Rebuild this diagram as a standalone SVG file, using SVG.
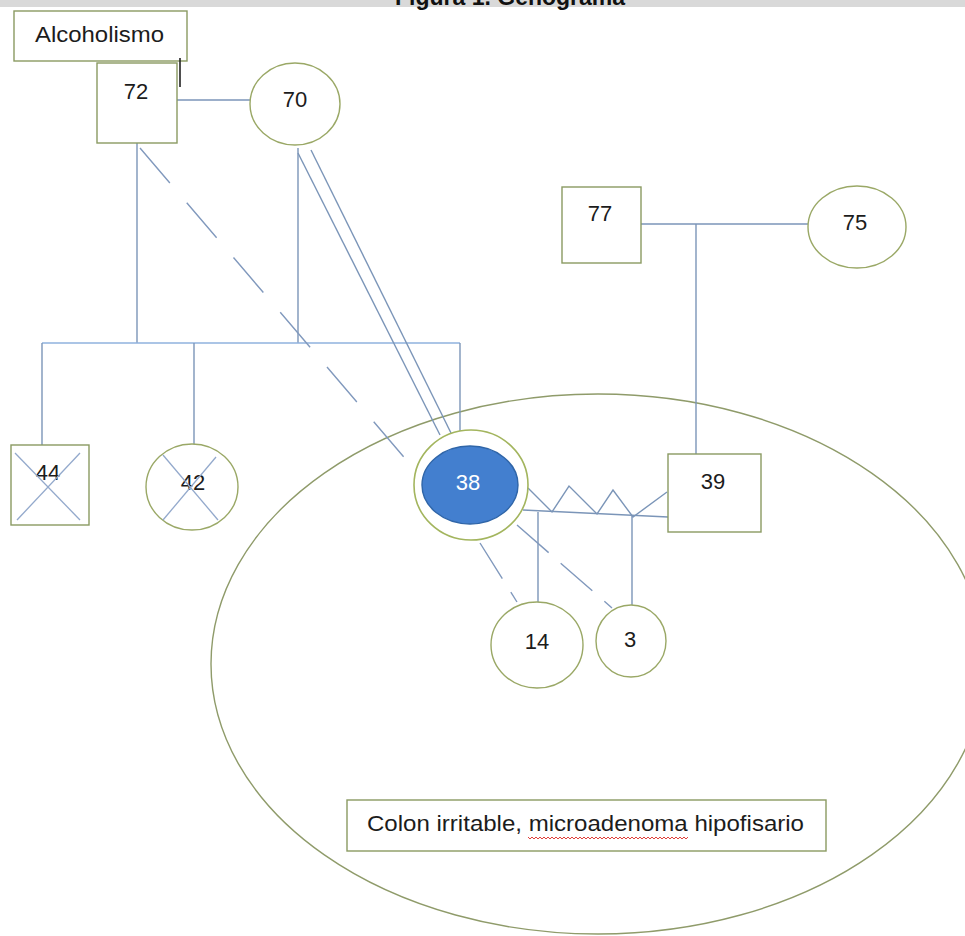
<svg xmlns="http://www.w3.org/2000/svg" width="965" height="936" viewBox="0 0 965 936">
  <style>
    .box { fill: #ffffff; stroke: #8a9a62; stroke-width: 1.4; }
    .ring { fill: #ffffff; stroke: #9aa866; stroke-width: 1.4; }
    .ln { fill: none; stroke: #7b95b8; stroke-width: 1.4; }
    .sib { fill: none; stroke: #8fb2de; stroke-width: 1.6; }
    .dash { fill: none; stroke: #8199bd; stroke-width: 1.4; stroke-dasharray: 46 26; }
    .dash2 { fill: none; stroke: #8199bd; stroke-width: 1.4; stroke-dasharray: 42 16; }
    .dead { fill: none; stroke: #93a9cc; stroke-width: 1.3; }
    .lbl { font-family: "Liberation Sans", Arial, sans-serif; font-size: 22px; fill: #1c1c1c; text-anchor: middle; }
    .note { font-family: "Liberation Sans", Arial, sans-serif; font-size: 22px; fill: #1c1c1c; }
  </style>

  <rect x="0" y="0" width="965" height="936" fill="#ffffff"/>

  <!-- caption strip, cut at the top edge -->
  <g id="caption">
    <rect x="0" y="0" width="965" height="7" fill="#d9d9d9"/>
    <text x="395" y="5" font-family="'Liberation Sans', Arial, sans-serif" font-size="23" font-weight="bold" fill="#111">Figura 1. Genograma</text>
  </g>

  <!-- household boundary -->
  <ellipse id="household" cx="598" cy="664" rx="387" ry="270" fill="none" stroke="#8f9b6a" stroke-width="1.4"/>

  <g id="connectors">
    <!-- couple 72 - 70 -->
    <line class="ln" x1="177" y1="100" x2="250" y2="100"/>
    <line class="ln" x1="137" y1="143" x2="137" y2="343"/>
    <line class="ln" x1="298" y1="148" x2="298" y2="343"/>
    <!-- sibship line -->
    <line class="sib" x1="42" y1="343" x2="460" y2="343"/>
    <line class="ln" x1="42" y1="343" x2="42" y2="445"/>
    <line class="ln" x1="194" y1="343" x2="194" y2="444"/>
    <line class="ln" x1="460" y1="343" x2="460" y2="433"/>
    <!-- close bond 70 - 38 -->
    <line class="ln" x1="298" y1="153" x2="440" y2="435"/>
    <line class="ln" x1="311" y1="150" x2="451" y2="433"/>
    <!-- distant bond 72 - 38 -->
    <line class="dash" x1="140" y1="148" x2="414" y2="469"/>
    <!-- couple 77 - 75 -->
    <line class="ln" x1="641" y1="224" x2="808" y2="224"/>
    <line class="ln" x1="696" y1="224" x2="696" y2="454"/>
    <!-- union 38 - 39 -->
    <line class="ln" x1="523" y1="510" x2="668" y2="517"/>
    <polyline class="ln" points="528,488 552,512 569,486 597,514 613,490 633,517 667,492"/>
    <line class="ln" x1="538" y1="512" x2="538" y2="602"/>
    <line class="ln" x1="632" y1="515" x2="632" y2="606"/>
    <!-- distant bonds 38 - children -->
    <line class="dash2" x1="480" y1="543" x2="517" y2="602"/>
    <line class="dash2" x1="517" y1="525" x2="612" y2="608"/>
  </g>

  <g id="n-alcoholismo">
    <rect class="box" x="14" y="11" width="173" height="50"/>
    <text class="note" x="35" y="42" textLength="129" lengthAdjust="spacingAndGlyphs">Alcoholismo</text>
    <line x1="180" y1="58" x2="180" y2="87" stroke="#222" stroke-width="1.6"/>
  </g>

  <g id="n72">
    <rect class="box" x="97" y="63" width="80" height="80"/>
    <text class="lbl" x="136" y="99">72</text>
  </g>

  <g id="n70">
    <ellipse class="ring" cx="295" cy="104" rx="45" ry="41"/>
    <text class="lbl" x="295" y="107">70</text>
  </g>

  <g id="n77">
    <rect class="box" x="562" y="187" width="79" height="76"/>
    <text class="lbl" x="600" y="221">77</text>
  </g>

  <g id="n75">
    <ellipse class="ring" cx="857" cy="227" rx="49" ry="41"/>
    <text class="lbl" x="855" y="230">75</text>
  </g>

  <g id="n44">
    <rect class="box" x="11" y="445" width="78" height="80"/>
    <text class="lbl" x="48" y="480">44</text>
    <line class="dead" x1="15" y1="453" x2="80" y2="520"/>
    <line class="dead" x1="80" y1="453" x2="17" y2="520"/>
  </g>

  <g id="n42">
    <ellipse class="ring" cx="192" cy="487" rx="46" ry="43"/>
    <text class="lbl" x="193" y="490">42</text>
    <line class="dead" x1="163" y1="455" x2="218" y2="520"/>
    <line class="dead" x1="216" y1="457" x2="163" y2="520"/>
  </g>

  <g id="n38">
    <ellipse cx="471" cy="485" rx="57" ry="55" fill="#ffffff" stroke="#a3b55e" stroke-width="1.6"/>
    <ellipse cx="470" cy="485" rx="48" ry="39" fill="#437fcf" stroke="#2f65a8" stroke-width="1.4"/>
    <text class="lbl" x="468" y="490" style="fill:#ffffff">38</text>
  </g>

  <g id="n39">
    <rect class="box" x="668" y="454" width="93" height="78"/>
    <text class="lbl" x="713" y="489">39</text>
  </g>

  <g id="n14">
    <ellipse class="ring" cx="537" cy="645" rx="46" ry="43"/>
    <text class="lbl" x="537" y="649">14</text>
  </g>

  <g id="n3">
    <ellipse class="ring" cx="631" cy="641" rx="35" ry="36"/>
    <text class="lbl" x="630" y="647">3</text>
  </g>

  <g id="n-note">
    <rect class="box" x="347" y="800" width="479" height="51"/>
    <text class="note" x="367" y="831" textLength="437" lengthAdjust="spacingAndGlyphs">Colon irritable, microadenoma hipofisario</text>
    <!-- spell-check squiggle -->
    <path d="M528 837 l2 2 2 -2 2 2 2 -2 2 2 2 -2 2 2 2 -2 2 2 2 -2 2 2 2 -2 2 2 2 -2 2 2 2 -2 2 2 2 -2 2 2 2 -2 2 2 2 -2 2 2 2 -2 2 2 2 -2 2 2 2 -2 2 2 2 -2 2 2 2 -2 2 2 2 -2 2 2 2 -2 2 2 2 -2 2 2 2 -2 2 2 2 -2 2 2 2 -2 2 2 2 -2 2 2 2 -2 2 2 2 -2 2 2 2 -2 2 2 2 -2 2 2 2 -2 2 2 2 -2 2 2 2 -2 2 2 2 -2 2 2 2 -2 2 2 2 -2 2 2 2 -2 2 2 2 -2 2 2 2 -2 2 2 2 -2 2 2 2 -2 2 2 2 -2 2 2 2 -2" fill="none" stroke="#e0403a" stroke-width="1"/>
  </g>
</svg>
